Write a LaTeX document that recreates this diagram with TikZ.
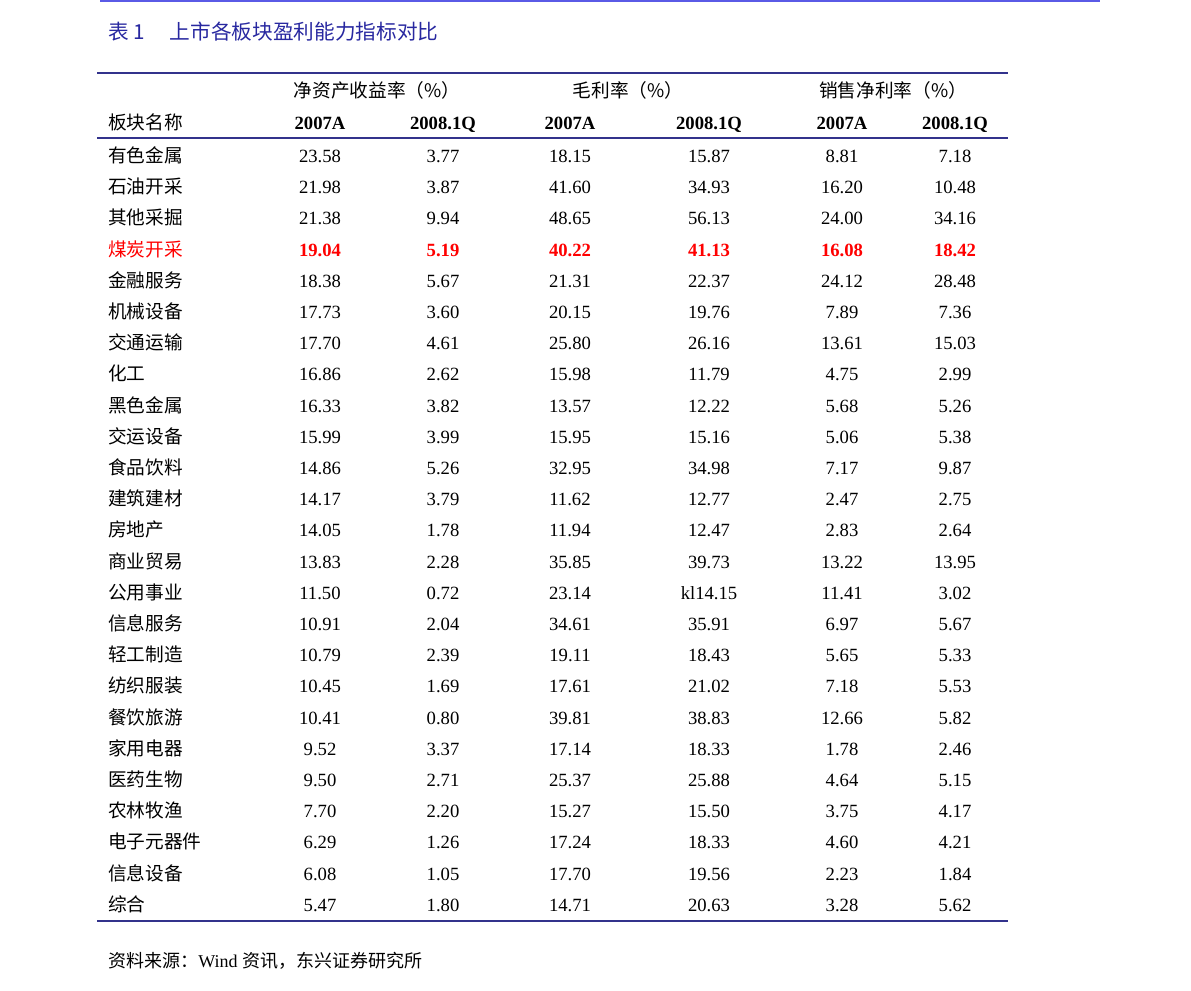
\documentclass[tikz,border=0pt]{standalone}
\usepackage{fontspec}
\setmainfont{Liberation Serif}
\newfontfamily\cjk{Noto Sans CJK SC}
\definecolor{rulec}{RGB}{50,50,140}
\definecolor{topc}{RGB}{90,90,230}
\definecolor{titc}{RGB}{40,40,160}
\begin{document}
\begin{tikzpicture}[x={(0.75pt,0)},y={(0,-0.75pt)},
 cell/.style={inner sep=0pt,yshift=-2.8pt,text height=1.6ex,text depth=0.4ex,font=\fontsize{14}{16}\selectfont},
 lab/.style={cell,anchor=west,font=\fontsize{14}{16}\selectfont\cjk},
 hi/.style={text=red,font=\fontsize{14}{16}\selectfont\bfseries}]
\useasboundingbox (0,0) rectangle (1191,990);
\draw[topc,line width=2pt] (100,1) -- (1100,1);
\node[lab,text=titc,font=\fontsize{15.5}{17}\selectfont\cjk] (title) at (108,32) {表 1\hspace{1.2em}上市各板块盈利能力指标对比};
\draw[rulec,line width=2pt] (97,73) -- (1008,73);
\draw[rulec,line width=2pt] (97,138) -- (1008,138);
\draw[rulec,line width=2pt] (97,921) -- (1008,921);
\node[cell,font=\fontsize{14}{16}\selectfont\cjk] (h1) at (377,90) {净资产收益率（\%）};
\node[cell,font=\fontsize{14}{16}\selectfont\cjk] (h2) at (628,90) {毛利率（\%）};
\node[cell,font=\fontsize{14}{16}\selectfont\cjk] (h3) at (893,90) {销售净利率（\%）};
\node[lab] (hn) at (108,122) {板块名称};
\foreach \x/\t [count=\i] in {320/2007A,443/2008.1Q,570/2007A,709/2008.1Q,842/2007A,955/2008.1Q}
  \node[cell,font=\fontsize{14}{16}\selectfont\bfseries] (hy\i) at (\x,122) {\t};
\foreach \n/\a/\b/\c/\d/\e/\f [count=\r from 0] in {
有色金属/23.58/3.77/18.15/15.87/8.81/7.18,
石油开采/21.98/3.87/41.60/34.93/16.20/10.48,
其他采掘/21.38/9.94/48.65/56.13/24.00/34.16,
煤炭开采/19.04/5.19/40.22/41.13/16.08/18.42,
金融服务/18.38/5.67/21.31/22.37/24.12/28.48,
机械设备/17.73/3.60/20.15/19.76/7.89/7.36,
交通运输/17.70/4.61/25.80/26.16/13.61/15.03,
化工/16.86/2.62/15.98/11.79/4.75/2.99,
黑色金属/16.33/3.82/13.57/12.22/5.68/5.26,
交运设备/15.99/3.99/15.95/15.16/5.06/5.38,
食品饮料/14.86/5.26/32.95/34.98/7.17/9.87,
建筑建材/14.17/3.79/11.62/12.77/2.47/2.75,
房地产/14.05/1.78/11.94/12.47/2.83/2.64,
商业贸易/13.83/2.28/35.85/39.73/13.22/13.95,
公用事业/11.50/0.72/23.14/kl14.15/11.41/3.02,
信息服务/10.91/2.04/34.61/35.91/6.97/5.67,
轻工制造/10.79/2.39/19.11/18.43/5.65/5.33,
纺织服装/10.45/1.69/17.61/21.02/7.18/5.53,
餐饮旅游/10.41/0.80/39.81/38.83/12.66/5.82,
家用电器/9.52/3.37/17.14/18.33/1.78/2.46,
医药生物/9.50/2.71/25.37/25.88/4.64/5.15,
农林牧渔/7.70/2.20/15.27/15.50/3.75/4.17,
电子元器件/6.29/1.26/17.24/18.33/4.60/4.21,
信息设备/6.08/1.05/17.70/19.56/2.23/1.84,
综合/5.47/1.80/14.71/20.63/3.28/5.62}{
  \pgfmathsetmacro\yy{155+31.2*\r}
  \ifnum\r=3
    \node[lab,text=red] (n\r) at (108,\yy) {\n};
    \node[cell,hi] (a\r) at (320,\yy) {\a};
    \node[cell,hi] (b\r) at (443,\yy) {\b};
    \node[cell,hi] (c\r) at (570,\yy) {\c};
    \node[cell,hi] (d\r) at (709,\yy) {\d};
    \node[cell,hi] (e\r) at (842,\yy) {\e};
    \node[cell,hi] (f\r) at (955,\yy) {\f};
  \else
    \node[lab] (n\r) at (108,\yy) {\n};
    \node[cell] (a\r) at (320,\yy) {\a};
    \node[cell] (b\r) at (443,\yy) {\b};
    \node[cell] (c\r) at (570,\yy) {\c};
    \node[cell] (d\r) at (709,\yy) {\d};
    \node[cell] (e\r) at (842,\yy) {\e};
    \node[cell] (f\r) at (955,\yy) {\f};
  \fi
}
\node[lab,font=\fontsize{13.5}{15}\selectfont] (src) at (108,960) {{\cjk 资料来源：}Wind {\cjk 资讯，东兴证券研究所}};
\end{tikzpicture}
\end{document}
